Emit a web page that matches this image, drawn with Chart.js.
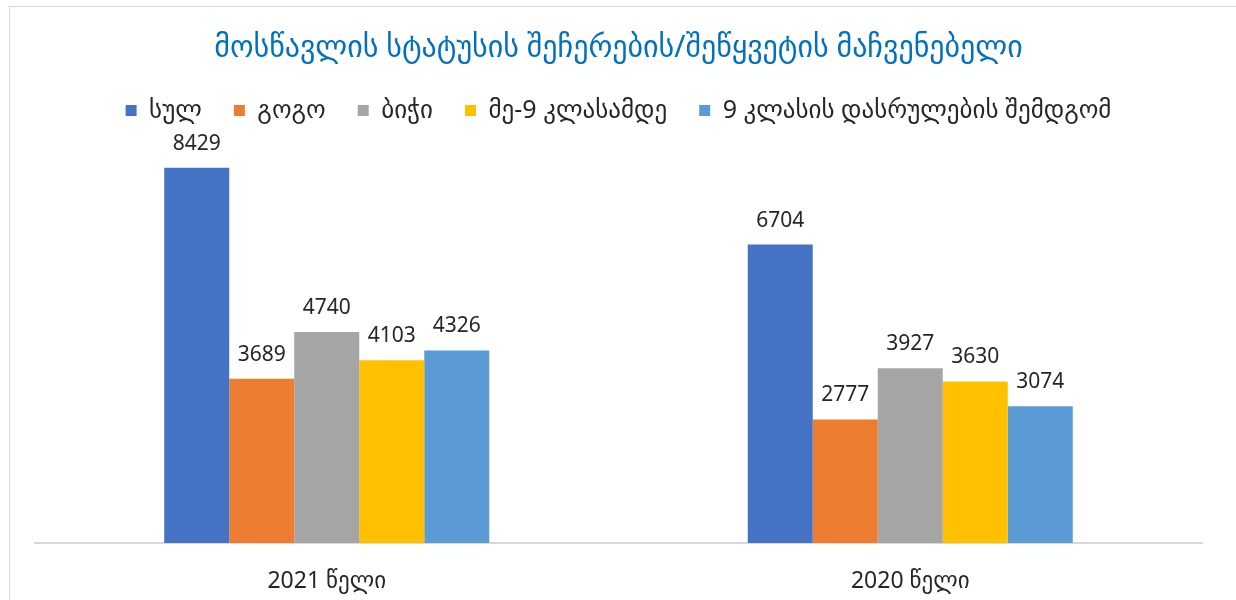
<!DOCTYPE html>
<html>
<head>
<meta charset="utf-8">
<script src="https://cdn.jsdelivr.net/npm/chart.js@4.4.1/dist/chart.umd.min.js"></script>
<style>
  html, body { margin: 0; padding: 0; background: #fff; }
  #wrap { width: 1236px; height: 600px; position: relative; }
</style>
</head>
<body>
<div id="wrap"><canvas id="chart" width="1236" height="600"></canvas></div>
<script>
// data
const categories = ["2021 წელი", "2020 წელი"];
const seriesNames = ["სულ", "გოგო", "ბიჭი", "მე-9 კლასამდე", "9 კლასის დასრულების შემდგომ"];
const total = [8429, 6704];
const girls = [3689, 2777];
const boys = [4740, 3927];
const beforeGrade9 = [4103, 3630];
const afterGrade9 = [4326, 3074];
const titleText = "მოსწავლის სტატუსის შეჩერების/შეწყვეტის მაჩვენებელი";

const colors = ["#4472C4", "#ED7D31", "#A5A5A5", "#FFC000", "#5B9BD5"];
const seriesValues = [total, girls, boys, beforeGrade9, afterGrade9];
const fontFamily = "'Noto Sans', 'DejaVu Sans', sans-serif";

// frame around the chart
const framePlugin = {
	id: "frame",
	beforeDraw(chart){
		const ctx = chart.ctx;
		ctx.save();
		ctx.strokeStyle = "#d9d9d9";
		ctx.lineWidth = 1;
		ctx.strokeRect(9.5, 6.5, 1300, 700);
		ctx.restore();
	}
};

// value labels above bars
const valueLabels = {
	id: "valueLabels",
	afterDatasetsDraw(chart){
		const ctx = chart.ctx;
		ctx.save();
		ctx.font = "21px " + fontFamily;
		ctx.fillStyle = "#262626";
		ctx.textAlign = "center";
		ctx.textBaseline = "middle";
		chart.data.datasets.forEach((ds, i) => {
			chart.getDatasetMeta(i).data.forEach((bar, j) => {
				ctx.fillText(ds.data[j], bar.x, bar.y - 24);
			});
		});
		ctx.restore();
	}
};

new Chart(document.getElementById("chart"), {
	type: "bar",
	data: {
		labels: categories,
		datasets: seriesNames.map((name, i) => ({
			label: name,
			data: seriesValues[i],
			backgroundColor: colors[i],
			borderWidth: 0,
			barPercentage: 1,
			categoryPercentage: 0.557
		}))
	},
	plugins: [framePlugin, valueLabels],
	options: {
		responsive: false,
		animation: false,
		layout: { padding: { left: 35, right: 34, top: 0, bottom: 0 } },
		plugins: {
			title: {
				display: true,
				text: titleText,
				color: "#0070C0",
				font: { family: fontFamily, size: 30, weight: "normal" },
				padding: { top: 30, bottom: 0 }
			},
			legend: {
				display: true,
				labels: {
					boxWidth: 11,
					boxHeight: 11,
					color: "#262626",
					font: { family: fontFamily, size: 25 },
					padding: 32
				}
			},
			tooltip: { enabled: false }
		},
		scales: {
			x: {
				grid: { display: false, drawTicks: false },
				border: { color: "#d9d9d9", width: 2 },
				ticks: { color: "#262626", font: { family: fontFamily, size: 23 }, padding: 25 },
				afterFit(scale){ scale.height = 57; }
			},
			y: {
				display: false,
				min: 0,
				max: 9210
			}
		}
	}
});
</script>
</body>
</html>
